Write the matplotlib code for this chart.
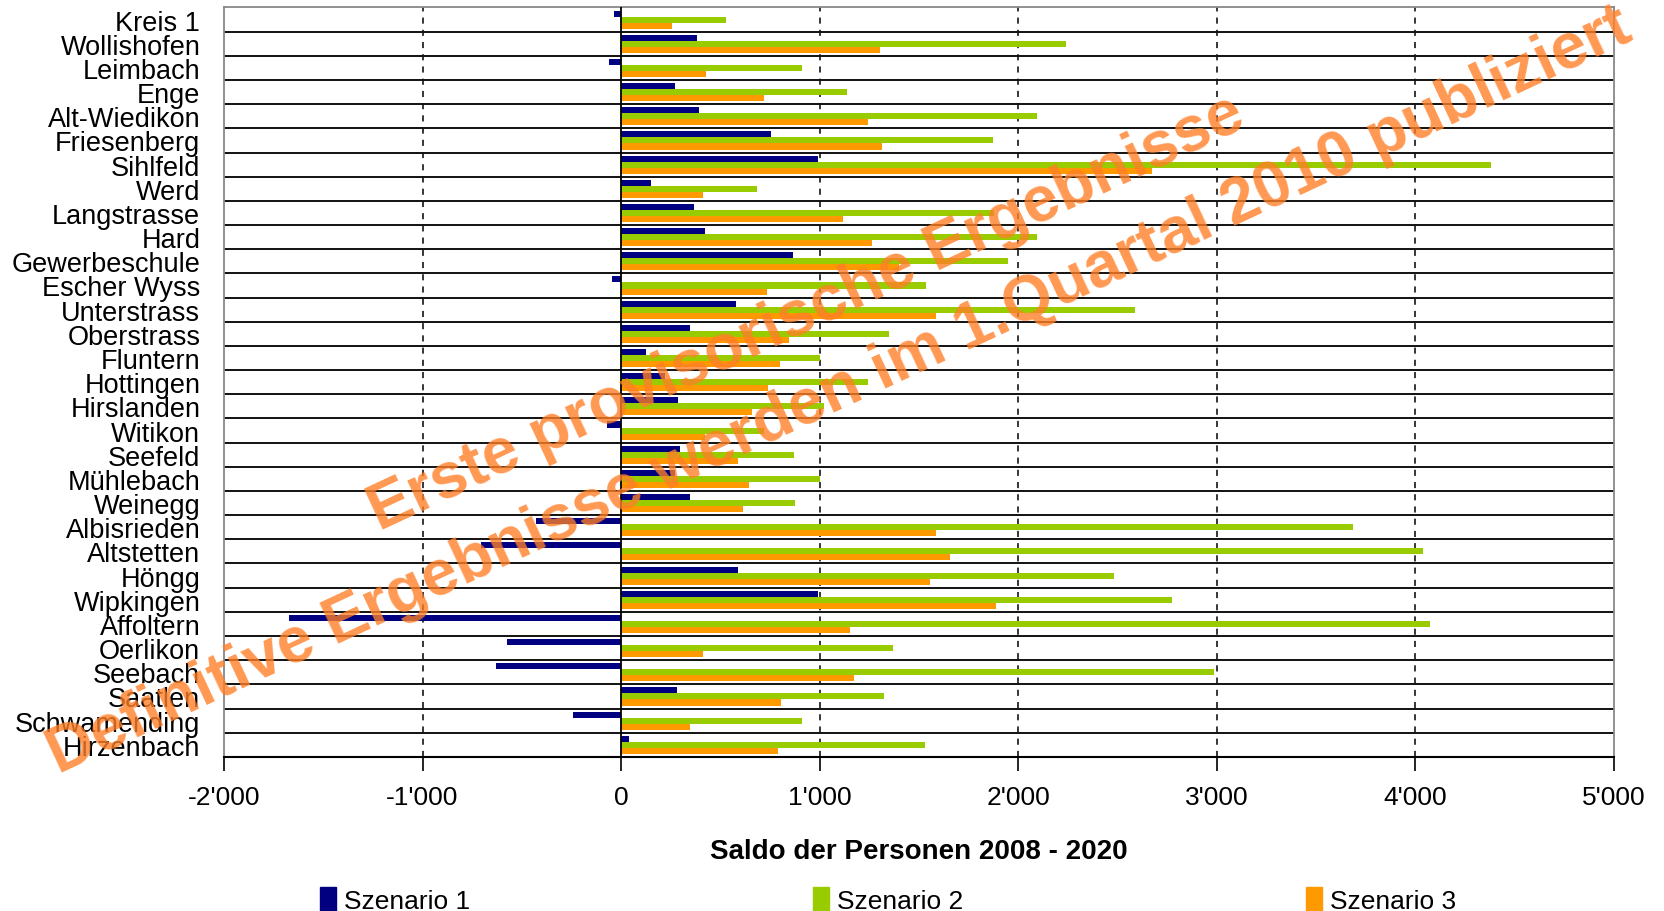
import numpy as np
import matplotlib.pyplot as plt
from matplotlib.ticker import FuncFormatter
from matplotlib.patches import Patch

# Quartiere (von oben nach unten)
quartiere = ["Kreis 1", "Wollishofen", "Leimbach", "Enge", "Alt-Wiedikon", "Friesenberg",
             "Sihlfeld", "Werd", "Langstrasse", "Hard", "Gewerbeschule", "Escher Wyss",
             "Unterstrass", "Oberstrass", "Fluntern", "Hottingen", "Hirslanden", "Witikon",
             "Seefeld", "Mühlebach", "Weinegg", "Albisrieden", "Altstetten", "Höngg",
             "Wipkingen", "Affoltern", "Oerlikon", "Seebach", "Saatlen", "Schwamending",
             "Hirzenbach"]

szenario1 = [-37, 380, -59, 273, 390, 754, 990, 150, 368, 422, 865, -45, 578, 348, 123,
             221, 288, -70, 298, 270, 348, -430, -705, 591, 990, -1670, -577, -628, 283,
             -241, 40]
szenario2 = [530, 2242, 912, 1135, 2093, 1872, 4381, 684, 1880, 2093, 1950, 1533, 2586,
             1349, 1003, 1243, 1022, 722, 873, 1003, 877, 3683, 4039, 2481, 2775, 4075,
             1367, 2983, 1322, 912, 1528]
szenario3 = [255, 1302, 425, 717, 1242, 1313, 2675, 412, 1116, 1261, 1400, 735, 1586,
             847, 800, 740, 657, 420, 588, 642, 615, 1586, 1658, 1553, 1889, 1153, 413,
             1172, 807, 348, 789]

serien = ["Szenario 1", "Szenario 2", "Szenario 3"]
farben = ["#000080", "#99CC00", "#FF9900"]
x_ticks = [-2000, -1000, 0, 1000, 2000, 3000, 4000, 5000]

plt.rcParams['font.family'] = ['Liberation Sans', 'DejaVu Sans']

fig = plt.figure(figsize=(16.65, 9.12), dpi=100)
ax = fig.add_axes([0.1345, 0.169, 0.8349, 0.8217])

y = np.arange(len(quartiere))
h = 0.25
for i, (werte, farbe) in enumerate(zip([szenario1, szenario2, szenario3], farben)):
    ax.barh(y + (i - 1) * h, werte, height=h, color=farbe, zorder=3)

# Trennlinien zwischen den Quartieren
for b in np.arange(0.5, len(quartiere) - 0.5, 1):
    ax.axhline(b, color="#111111", lw=1.4, zorder=2)

# gestrichelte Gitterlinien
for t in x_ticks:
    if t in (-2000, 0, 5000):
        continue
    ax.axvline(t, color="black", lw=1.1, ls=(0, (4, 4)), zorder=1)
ax.axvline(0, color="black", lw=1.3, zorder=4)

ax.set_xlim(-2000, 5000)
ax.set_ylim(len(quartiere) - 0.5, -0.5)
ax.set_yticks(y)
ax.set_yticklabels(quartiere, fontsize=19.5)
ax.tick_params(axis="y", length=0, pad=17)

ax.set_xticks(x_ticks)
ax.xaxis.set_major_formatter(FuncFormatter(lambda v, p: f"{int(v):,}".replace(",", "'")))
ax.tick_params(axis="x", length=10, width=1.2, pad=10, labelsize=19)

for s in ["left", "top", "right"]:
    ax.spines[s].set_color("#888888")
    ax.spines[s].set_linewidth(1.3)
ax.spines["bottom"].set_color("black")
ax.spines["bottom"].set_linewidth(1.5)

ax.set_xlabel("Saldo der Personen 2008 - 2020", fontsize=20, fontweight="bold", va="center")
ax.xaxis.set_label_coords(0.5, -0.125)

handles = [Patch(color=c, label=s) for c, s in zip(farben, serien)]
fig.legend(handles=handles, loc="center", bbox_to_anchor=(0.5335, 0.012), ncol=3,
           frameon=False, fontsize=19, handlelength=0.6, handleheight=1.0,
           handletextpad=0.3, columnspacing=13.0)

# Wasserzeichen
wm = dict(fontsize=46, fontweight="bold", color="#FF7F27", alpha=0.8, rotation=25,
          rotation_mode="anchor", ha="center", va="center", zorder=10)
fig.text(0.4847, 0.6568, "Erste provisorische Ergebnisse", **wm)
fig.text(0.504, 0.5715, "Definitive Ergebnisse werden im 1.Quartal 2010 publiziert", **wm)

fig.savefig("out.png", dpi=100)
